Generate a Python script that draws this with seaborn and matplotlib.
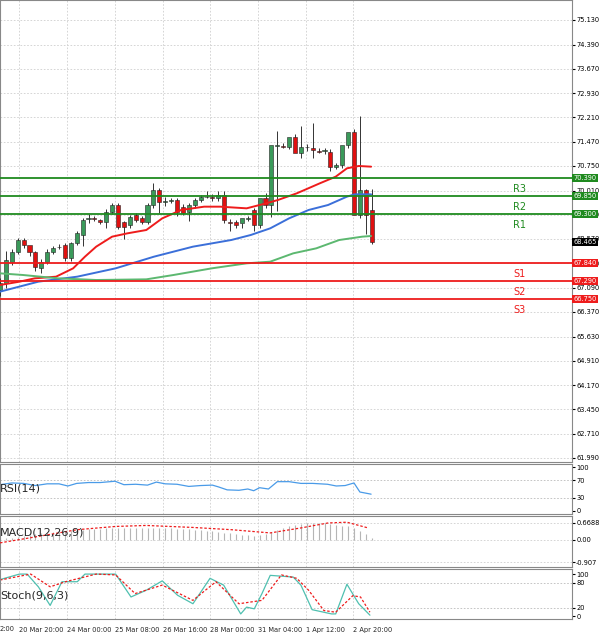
import numpy as np
import pandas as pd
import matplotlib.pyplot as plt
import seaborn as sns

# --- candle data ---
opens = [67.03, 67.23, 67.88, 68.18, 68.53, 68.38, 68.18, 67.68, 67.88, 68.18, 68.31, 68.38, 67.98, 68.43, 68.68,
         69.16, 69.18, 69.13, 69.08, 69.38, 69.58, 69.08, 68.98, 69.28, 69.18, 69.08, 69.58, 70.03, 69.68, 69.70,
         69.73, 69.53, 69.38, 69.58, 69.73, 69.81, 69.83, 69.78, 69.88, 69.08, 69.08, 69.03, 69.16, 69.43, 68.98,
         69.78, 69.58, 71.36, 71.35, 71.33, 71.61, 71.13, 71.31, 71.28, 71.20, 71.21, 71.18, 70.73, 70.78, 71.38,
         71.78, 69.28, 70.03, 69.43]
closes = [67.23, 67.93, 68.18, 68.53, 68.38, 68.18, 67.73, 67.88, 68.18, 68.28, 68.33, 67.98, 68.43, 68.73, 69.13,
          69.18, 69.15, 69.08, 69.38, 69.58, 68.93, 68.93, 69.23, 69.13, 69.08, 69.58, 70.03, 69.68, 69.68, 69.73,
          69.38, 69.33, 69.58, 69.73, 69.83, 69.83, 69.78, 69.88, 69.13, 69.03, 68.98, 69.18, 69.18, 68.98, 69.78,
          69.58, 71.38, 71.38, 71.33, 71.63, 71.13, 71.33, 71.33, 71.23, 71.18, 71.23, 70.73, 70.78, 71.38, 71.78,
          69.28, 70.03, 69.28, 68.46]
highs = [67.40, 68.20, 68.25, 68.60, 68.58, 68.25, 68.20, 67.95, 68.25, 68.35, 68.40, 68.45, 68.48, 68.80, 69.20,
         69.30, 69.25, 69.15, 69.45, 69.65, 69.63, 69.10, 69.28, 69.33, 69.25, 69.65, 70.25, 70.10, 69.82, 69.80,
         69.78, 69.60, 69.63, 69.80, 69.88, 70.00, 69.90, 70.00, 70.00, 69.15, 69.12, 69.05, 69.25, 69.48, 69.05,
         69.95, 70.10, 71.80, 71.45, 71.40, 71.70, 71.95, 71.40, 72.05, 71.30, 71.28, 71.25, 70.85, 71.05, 71.60,
         71.85, 72.25, 70.05, 70.07]
lows = [66.85, 67.10, 67.78, 68.10, 68.30, 68.05, 67.60, 67.55, 67.80, 68.10, 68.25, 67.90, 67.90, 68.38, 68.35,
        69.05, 69.10, 69.00, 68.90, 69.30, 68.85, 68.55, 68.90, 69.08, 69.00, 69.00, 69.50, 69.35, 69.55, 69.65,
        69.25, 69.28, 69.10, 69.50, 69.68, 69.78, 69.70, 69.70, 69.05, 68.80, 68.90, 68.88, 69.10, 68.80, 68.90,
        69.50, 69.22, 69.40, 71.30, 71.25, 71.55, 71.00, 71.20, 71.00, 71.15, 71.10, 70.60, 70.65, 70.70, 71.30,
        71.70, 69.20, 68.70, 68.40]

# moving averages (index, price)
ma_red_x = [0, 3.3, 5.9, 9.5, 12.4, 14.4, 16.3, 19.0, 21.6, 24.8, 27.5, 30.7, 34.6, 37.3, 41.8, 45.1, 47.1, 50.3, 54.2, 56.9, 58.8, 60.8, 62.9]
ma_red = [67.18, 67.28, 67.38, 67.43, 67.68, 68.03, 68.33, 68.63, 68.73, 68.83, 69.18, 69.43, 69.53, 69.53, 69.48, 69.63, 69.73, 69.93, 70.23, 70.43, 70.68, 70.75, 70.73]
ma_blue_x = [0, 6.5, 13.1, 19.6, 26.1, 32.7, 39.2, 42.5, 45.8, 49.0, 52.3, 55.6, 58.8, 60.1, 62.9]
ma_blue = [66.98, 67.28, 67.43, 67.68, 68.03, 68.33, 68.53, 68.68, 68.88, 69.18, 69.43, 69.58, 69.83, 69.90, 69.90]
ma_green_x = [0, 3.9, 9.8, 16.3, 24.8, 29.4, 35.9, 41.8, 45.8, 49.7, 53.6, 57.5, 61.4, 62.9]
ma_green = [67.53, 67.48, 67.38, 67.33, 67.35, 67.48, 67.68, 67.83, 67.88, 68.13, 68.28, 68.53, 68.63, 68.65]

res_levels = [70.39, 69.85, 69.30]
sup_levels = [67.84, 67.29, 66.75]
res_names = ["R3", "R2", "R1"]
sup_names = ["S1", "S2", "S3"]
last_price = 68.465

price_ticks = [75.130, 74.390, 73.670, 72.930, 72.210, 71.470, 70.750, 70.010, 69.290, 68.570, 67.830,
               67.090, 66.370, 65.630, 64.910, 64.170, 63.450, 62.710, 61.990]

rsi_x = [0, 2, 4, 6, 8, 10, 11.5, 13, 15, 17, 19.5, 21, 23, 25, 26.5, 28, 30, 32, 34, 36, 37, 38.5, 40.5, 42, 43, 44,
         45.5, 47, 49, 51, 53, 55.5, 57, 58.5, 60, 61, 62.9]
rsi = [60, 64, 63, 58, 62, 62, 57, 63, 65, 65, 68, 60, 61, 59, 66, 62, 61, 56, 58, 59, 55, 48, 47, 50, 46, 53, 50,
       67, 67, 63, 63, 61, 57, 58, 64, 43, 38]

macd_hist = [0.02, 0.05, 0.08, 0.12, 0.16, 0.20, 0.22, 0.25, 0.27, 0.30, 0.32, 0.34, 0.36, 0.38, 0.40, 0.42, 0.43,
             0.44, 0.45, 0.46, 0.47, 0.47, 0.48, 0.48, 0.48, 0.47, 0.47, 0.46, 0.46, 0.45, 0.44, 0.42, 0.41, 0.39,
             0.37, 0.35, 0.33, 0.31, 0.28, 0.25, 0.22, 0.19, 0.17, 0.15, 0.18, 0.22, 0.30, 0.40, 0.48, 0.54, 0.60,
             0.64, 0.66, 0.67, 0.67, 0.66, 0.63, 0.58, 0.55, 0.55, 0.48, 0.34, 0.22, 0.05]
sig_x = [0, 6.5, 13.1, 19.6, 24.8, 32.7, 39.2, 45.8, 51.0, 55.6, 58.8, 62.4]
sig = [-0.13, 0.13, 0.40, 0.53, 0.57, 0.49, 0.40, 0.27, 0.47, 0.67, 0.70, 0.47]

st_x = [0, 3.3, 4.6, 6.5, 8.5, 10.5, 13.1, 14.4, 19.6, 22.2, 24.8, 27.5, 30.1, 32.7, 35.6, 37.9, 40.8, 41.8, 43.1,
        44.4, 45.8, 49.7, 51.0, 52.9, 56.2, 56.9, 58.8, 60.8, 62.7]
st_main = [87, 100, 100, 70, 26, 82, 82, 100, 100, 46, 62, 84, 50, 30, 90, 74, 6, 22, 18, 54, 97, 93, 74, 16, 6, 6,
           76, 30, 3]
sig2_x = [0, 5.2, 8.5, 11.1, 16.3, 19.6, 22.9, 27.5, 32.7, 36.6, 40.5, 44.4, 47.7, 50.3, 52.3, 54.9, 56.9, 59.8,
          61.1, 62.7]
st_sig = [86, 100, 70, 82, 100, 98, 54, 74, 38, 82, 30, 38, 98, 90, 62, 14, 10, 49, 46, 10]

date_pos = [3.3, 11.4, 19.5, 27.6, 35.6, 43.7, 51.8, 59.8]
date_labels = ["20 Mar 20:00", "24 Mar 00:00", "25 Mar 08:00", "26 Mar 16:00",
               "28 Mar 00:00", "31 Mar 04:00", "1 Apr 12:00", "2 Apr 20:00"]

sns.set_style("white")
plt.rcParams["font.family"] = "DejaVu Sans"
fig = plt.figure(figsize=(6, 6.34), dpi=100)
W, H = 600, 634
XMAX = 572 / 5.9
FS = 4.8


def mk(top, bottom):
    ax = fig.add_axes([0, 1 - bottom / H, 572 / W, (bottom - top) / H])
    ax.yaxis.tick_right()
    ax.tick_params(axis="y", labelsize=FS, length=2, pad=1, colors="#000")
    ax.set_xticks(date_pos)
    ax.set_xticklabels([])
    ax.tick_params(axis="x", length=2)
    for s in ax.spines.values():
        s.set_color("#888")
    ax.grid(True, color="#cfcfcf", linestyle=(0, (2, 2)), linewidth=0.6)
    return ax


def box(a, y, txt, fc):
    a.text(XMAX + 0.25, y, txt, fontsize=FS, color="#fff", va="center", ha="left", zorder=10,
           clip_on=False, bbox=dict(boxstyle="square,pad=0.15", fc=fc, ec="none"))


# main chart
ax = mk(0, 462)
ax.set_ylim(61.87, 75.73)
ax.set_yticks(price_ticks)
ax.set_yticklabels([f"{t:.3f}" for t in price_ticks])
idx = np.arange(len(closes))
for i in idx:
    o, c = opens[i], closes[i]
    col = "#3a9a5a" if c >= o else "#e01010"
    ax.vlines(i, lows[i], highs[i], color="#333", linewidth=0.7, zorder=3)
    ax.bar(i, max(abs(c - o), 0.02), bottom=min(o, c), width=0.7, color=col, edgecolor="#222",
           linewidth=0.4, zorder=4)
sns.lineplot(x=ma_red_x, y=ma_red, ax=ax, color="#ee1c1c", linewidth=1.4, zorder=5)
sns.lineplot(x=ma_blue_x, y=ma_blue, ax=ax, color="#3b6fd9", linewidth=1.4, zorder=5)
sns.lineplot(x=ma_green_x, y=ma_green, ax=ax, color="#5cb870", linewidth=1.4, zorder=5)
for lv, nm in zip(res_levels, res_names):
    ax.axhline(lv, color="#1f8a1f", linewidth=1.3, zorder=6)
    ax.text(88, lv - 0.18, nm, color="#1f8a1f", fontsize=7, va="top", ha="center")
    box(ax, lv, f"{lv:.3f}", "#1f8a1f")
for lv, nm in zip(sup_levels, sup_names):
    ax.axhline(lv, color="#ee1c1c", linewidth=1.3, zorder=6)
    ax.text(88, lv - 0.18, nm, color="#ee1c1c", fontsize=7, va="top", ha="center")
    box(ax, lv, f"{lv:.3f}", "#ee1c1c")
box(ax, last_price, f"{last_price:.3f}", "#000")

# RSI
ax1 = mk(464, 514)
ax1.set_ylim(-8, 108)
ax1.set_yticks([0, 30, 70, 100])
ax1.grid(False)
for v in (30, 70):
    ax1.axhline(v, color="#bbb", linestyle=(0, (2, 2)), linewidth=0.6)
for p in date_pos:
    ax1.axvline(p, color="#cfcfcf", linestyle=(0, (2, 2)), linewidth=0.6)
sns.lineplot(x=rsi_x, y=rsi, ax=ax1, color="#4a9be8", linewidth=0.9)
ax1.text(0.0, 52, "RSI(14)", fontsize=8, va="center")

# MACD
ax2 = mk(516, 567)
ax2.set_ylim(-1.1, 0.95)
ax2.set_yticks([-0.907, 0.0, 0.6688])
ax2.set_yticklabels(["-0.907", "0.00", "0.6688"])
ax2.vlines(idx, 0, macd_hist, color="#b5b5b5", linewidth=0.8)
sns.lineplot(x=sig_x, y=sig, ax=ax2, color="#ee1c1c", linewidth=0.9, linestyle=(0, (2, 1.5)), zorder=5)
ax2.text(0.0, 0.3, "MACD(12,26,9)", fontsize=8, va="center", zorder=6)

# Stochastic
ax3 = mk(569, 619)
ax3.set_ylim(-6, 112)
ax3.set_yticks([0, 20, 80, 100])
ax3.grid(False)
for v in (20, 80):
    ax3.axhline(v, color="#bbb", linestyle=(0, (2, 2)), linewidth=0.6)
for p in date_pos:
    ax3.axvline(p, color="#cfcfcf", linestyle=(0, (2, 2)), linewidth=0.6)
sns.lineplot(x=st_x, y=st_main, ax=ax3, color="#4fc0b0", linewidth=0.9)
sns.lineplot(x=sig2_x, y=st_sig, ax=ax3, color="#ee1c1c", linewidth=0.9, linestyle=(0, (2, 1.5)))
ax3.text(0.0, 50, "Stoch(9,6,3)", fontsize=8, va="center")
ax3.set_xticklabels(date_labels, fontsize=FS, ha="left")
fig.text(0.0, 1 - 629 / H, "2:00", fontsize=FS, va="center", ha="left")

for a in (ax, ax1, ax2, ax3):
    a.set_xlabel("")
    a.set_ylabel("")
    a.set_xlim(0, XMAX)

fig.savefig("out.png", dpi=100)
